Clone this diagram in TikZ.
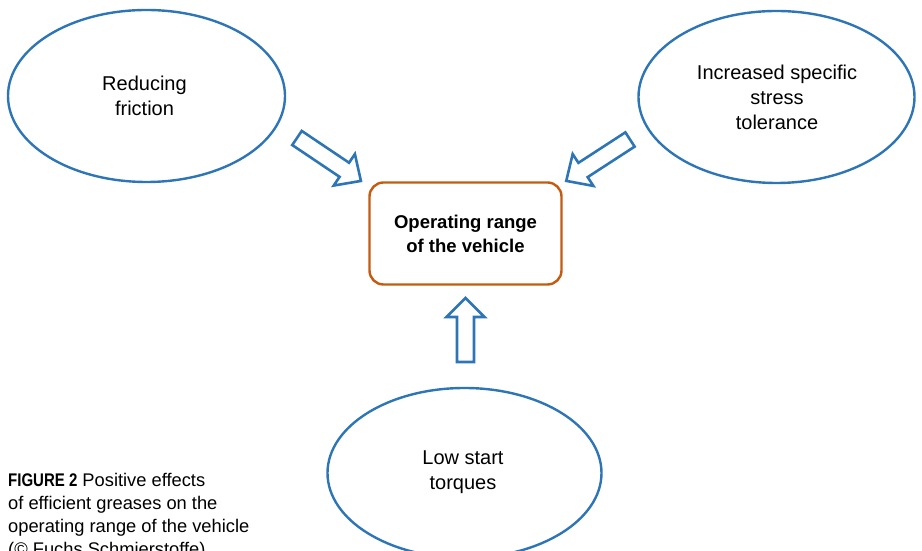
\documentclass[tikz,border=0pt]{standalone}
\usepackage{fontspec}
\setmainfont{Liberation Sans}
\newfontfamily\condbold[FakeStretch=0.82]{Liberation Sans Bold}
\begin{document}
\begin{tikzpicture}[x=1pt,y=1pt,
  blockarrow/.style={draw=myblue, line width=2.6pt, line join=miter},
  bubble/.style={myblue, line width=2.4pt},
  label/.style={align=center, font=\fontsize{20}{25}\selectfont, text=black, inner sep=0pt},
  centerbox/.style={draw=myorange, line width=2.4pt, rounded corners=14pt, minimum width=192pt, minimum height=102pt, align=center, font=\fontsize{18.5}{24}\selectfont\bfseries}]
\definecolor{myblue}{RGB}{46,117,182}
\definecolor{myorange}{RGB}{197,90,17}
\useasboundingbox (0,0) rectangle (922,551);
% ellipses (y measured upward: Y = 551 - y_img)
\draw[bubble] (146.5,455) ellipse [x radius=138.5pt, y radius=86pt];
\node[label] (fric) at (144.5,455) {Reducing\\friction};
\draw[bubble] (776.5,454) ellipse [x radius=138pt, y radius=86pt];
\node[label] (stress) at (777,454) {Increased specific\\stress\\tolerance};
\draw[bubble] (464.5,78) ellipse [x radius=137pt, y radius=85pt];
\node[label] (torq) at (463,79) {Low start\\torques};
% center box
\node[centerbox] (op) at (465.5,317.5) {Operating range\\of the vehicle};
% block arrows
\draw[blockarrow, shift={(297,413)}, rotate=-33.9]
  (0,-8.5) -- (57,-8.5) -- (57,-19) -- (77,0) -- (57,19) -- (57,8.5) -- (0,8.5) -- cycle;
\draw[blockarrow, shift={(630,411.5)}, rotate=-147]
  (0,-8.5) -- (56,-8.5) -- (56,-19) -- (76,0) -- (56,19) -- (56,8.5) -- (0,8.5) -- cycle;
\draw[blockarrow, shift={(465.5,189)}, rotate=90]
  (0,-8.5) -- (45,-8.5) -- (45,-19) -- (64,0) -- (45,19) -- (45,8.5) -- (0,8.5) -- cycle;
% caption
\node[anchor=north west, align=left, inner sep=0pt, font=\fontsize{18.3}{23}\selectfont] (cap) at (8,77.5)
  {{\condbold FIGURE 2} Positive effects\\of efficient greases on the\\operating range of the vehicle\\(© Fuchs Schmierstoffe)};
\end{tikzpicture}
\end{document}
